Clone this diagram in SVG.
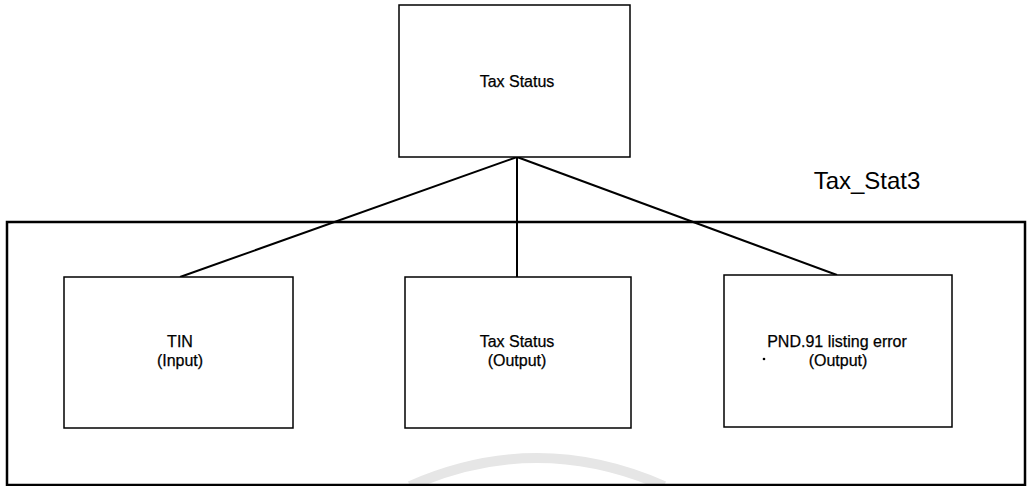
<svg xmlns="http://www.w3.org/2000/svg" width="1027" height="486" viewBox="0 0 1027 486">
<style>
.box{fill:#fff;stroke:#000;stroke-width:1.5}
.frame{fill:none;stroke:#000;stroke-width:2.5}
.t{font-family:"Liberation Sans",Arial,sans-serif;font-size:16px;text-anchor:middle;fill:#000;stroke:#000;stroke-width:0.25}
.conn line{stroke:#000;stroke-width:2}
</style>
<rect width="1027" height="486" fill="#fff"/>
<path d="M410,486 Q537,430 664,486" fill="none" stroke="#e6e6e6" stroke-width="10"/>
<g id="frame">
<rect class="frame" x="7" y="222" width="1018" height="263"/>
<text x="867" y="189" style="font-family:'Liberation Sans',Arial,sans-serif;font-size:24px;text-anchor:middle">Tax_Stat3</text>
</g>
<g class="conn" id="connectors">
<line x1="517" y1="157" x2="180" y2="277"/>
<line x1="517" y1="157" x2="517" y2="277"/>
<line x1="517" y1="157" x2="837" y2="275"/>
</g>
<g id="tax-status-top">
<rect class="box" x="399" y="5" width="231" height="152"/>
<text class="t" x="517" y="87">Tax Status</text>
</g>
<g id="tin">
<rect class="box" x="64" y="277" width="229" height="151"/>
<text class="t" x="180" y="347">TIN</text>
<text class="t" x="180" y="366">(Input)</text>
</g>
<g id="tax-status-out">
<rect class="box" x="405" y="277" width="226" height="151"/>
<text class="t" x="517" y="347">Tax Status</text>
<text class="t" x="517" y="366">(Output)</text>
</g>
<g id="pnd91">
<rect class="box" x="724" y="275" width="228" height="152"/>
<text class="t" x="837" y="347">PND.91 listing error</text>
<text class="t" x="838" y="366">(Output)</text>
<circle cx="764" cy="359" r="1.3" fill="#000"/>
</g>
</svg>
